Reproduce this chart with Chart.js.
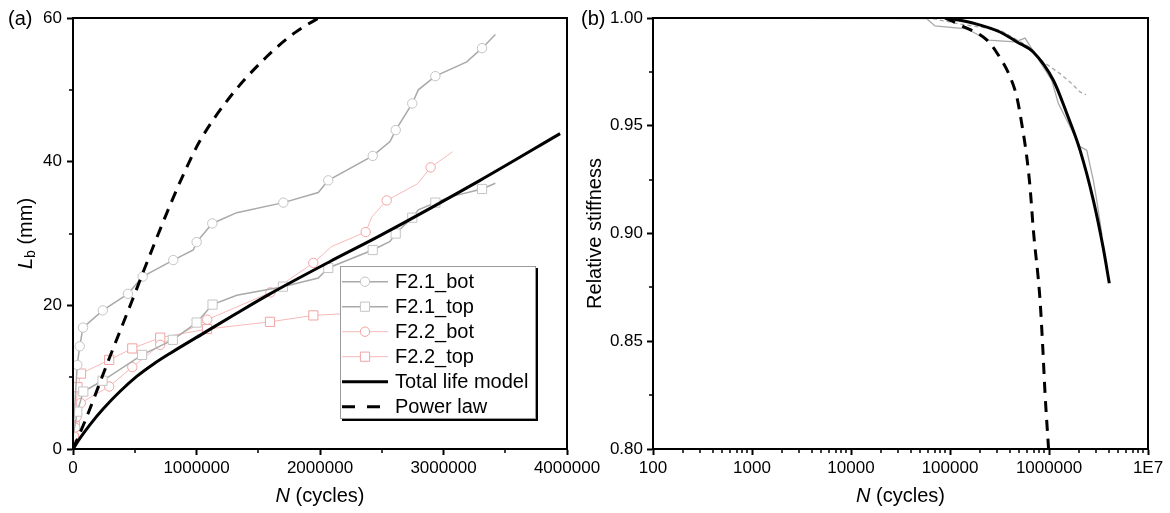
<!DOCTYPE html>
<html>
<head>
<meta charset="utf-8">
<script src="https://cdn.jsdelivr.net/npm/chart.js@4.4.1/dist/chart.umd.min.js"></script>
<style>
  body { margin: 0; background: #fff; }
  #wrap { position: relative; width: 1170px; height: 513px; overflow: hidden; }
  #cA { position: absolute; left: 0; top: 0; }
  #cB { position: absolute; left: 560px; top: 0; }
</style>
</head>
<body>
<div id="wrap">
  <canvas id="cA" width="620" height="513"></canvas>
  <canvas id="cB" width="610" height="513"></canvas>
</div>
<script>
//______________________________________________________
// (a) crack length L_b (mm) against N (cycles)
var f21BotN = [3000, 34800, 54300, 81000, 241000, 445000, 564000, 812000, 974000, 1001000, 1128000, 1326000,
               1703000, 1986000, 2067000, 2427000, 2567000, 2613000, 2747000, 2796000, 2934000, 3188000, 3312000, 3420000];
var f21BotL = [3.0, 11.7, 14.3, 16.9, 19.3, 21.6, 24.0, 26.3, 27.7, 28.8, 31.4, 32.9,
               34.3, 35.7, 37.4, 40.8, 42.8, 44.4, 48.1, 50.0, 51.9, 53.9, 55.8, 57.7];
var f21BotMarks = [1, 2, 3, 4, 5, 6, 7, 9, 10, 12, 14, 15, 17, 18, 20, 22];

var f21TopN = [3000, 34800, 83400, 239000, 559000, 808000, 1001000, 1130000, 1326000, 1700000, 1986000, 2067000,
               2427000, 2567000, 2613000, 2747000, 2796000, 2934000, 3053000, 3312000, 3420000];
var f21TopL = [2.0, 5.2, 8.0, 9.5, 13.1, 15.2, 17.6, 20.1, 21.4, 22.6, 23.8, 25.2,
               27.7, 28.9, 30.0, 32.2, 33.3, 34.3, 35.1, 36.2, 37.0];
var f21TopMarks = [1, 2, 3, 4, 5, 6, 7, 9, 11, 12, 14, 15, 17, 19];

var f22BotN = [0, 8000, 18000, 30000, 63000, 293000, 480000, 706000, 1087000, 1599000, 1946000, 2095000,
               2370000, 2419000, 2540000, 2788000, 2896000, 3075000];
var f22BotL = [0, 1.8, 3.0, 4.5, 6.4, 8.7, 11.4, 14.5, 18.0, 21.8, 25.9, 28.2,
               30.2, 32.3, 34.6, 36.9, 39.2, 41.4];
var f22BotMarks = [1, 2, 3, 4, 5, 6, 7, 8, 9, 10, 12, 14, 16];

var f22TopN = [0, 6000, 14000, 24000, 36000, 65000, 293000, 480000, 706000, 1085000, 1595000, 1946000, 2370000];
var f22TopL = [0, 1.5, 3.2, 5.5, 8.6, 10.5, 12.4, 14.0, 15.5, 16.7, 17.7, 18.6, 19.0];
var f22TopMarks = [1, 2, 3, 4, 5, 6, 7, 8, 9, 10, 11, 12];

var aTotalN = [0, 57000, 138000, 245000, 380000, 516000, 650000, 785000, 1055000, 1326000, 1595000, 2081000, 2486000, 3296000, 3944000];
var aTotalL = [0, 1.5, 3.4, 5.6, 8.0, 10.1, 11.8, 13.3, 16.1, 18.9, 21.6, 26.1, 29.7, 37.4, 43.9];

var aPowerN = [0, 100000, 275000, 475000, 650000, 812000, 907000, 1028000, 1271000, 1568000, 1800000, 2040000];
var aPowerL = [0, 4.0, 11.8, 20.5, 28.2, 35.0, 38.7, 42.9, 49.0, 54.6, 58.0, 60.5];

var aXTicks = [0, 1000000, 2000000, 3000000, 4000000];
var aXLabels = ['0', '1000000', '2000000', '3000000', '4000000'];
var aXMinor = [500000, 1500000, 2500000, 3500000];
var aYTicks = [0, 20, 40, 60];
var aYLabels = ['0', '20', '40', '60'];
var aYMinor = [10, 30, 50];

//______________________________________________________
// (b) relative stiffness against N (cycles), log axis
var b21N = [100, 58200, 70500, 147000, 244000, 454000, 573000, 812000, 1064000, 1242000, 1762000, 2057000, 2404000, 2803000, 3034000, 3428000];
var b21S = [1.000, 0.9997, 0.9963, 0.9950, 0.9897, 0.9889, 0.9907, 0.9796, 0.9712, 0.9604, 0.9465, 0.9403, 0.9387, 0.9248, 0.9155, 0.8993];

var b22N = [100, 62000, 126000, 320000, 596000, 877000, 1291000, 1629000, 2057000, 2365000];
var b22S = [1.000, 1.000, 0.9972, 0.9944, 0.9873, 0.9796, 0.9742, 0.9703, 0.9657, 0.9644];

var bTotalN = [95500, 179000, 320000, 475000, 693000, 1106000, 1510000, 2057000, 2803000, 3537000, 4066000];
var bTotalS = [1.000, 0.9974, 0.9935, 0.9889, 0.9842, 0.9711, 0.9558, 0.9387, 0.9155, 0.8931, 0.8769];

var bPowerN = [89000, 126000, 235000, 297000, 404000, 472000, 530000, 596000, 643000, 695000, 812000, 864000, 912000, 990000];
var bPowerS = [1.000, 0.9968, 0.9898, 0.9839, 0.9728, 0.9635, 0.9511, 0.9356, 0.9217, 0.9016, 0.8691, 0.8475, 0.8258, 0.800];

var bXTicks = [100, 1000, 10000, 100000, 1000000, 10000000];
var bXLabels = ['100', '1000', '10000', '100000', '1000000', '1E7'];
var bYTicks = [0.80, 0.85, 0.90, 0.95, 1.00];
var bYLabels = ['0.80', '0.85', '0.90', '0.95', '1.00'];
var bYMinor = [0.825, 0.875, 0.925, 0.975];

const Font = '"Liberation Sans", Arial, sans-serif';
const Gray = '#a9a9a9';
const GrayMark = '#c4c4c4';
const Pink = '#f7b9b9';
const PinkMark = '#f3a3a3';

Chart.defaults.font.family = Font;
Chart.defaults.font.size = 17;
Chart.defaults.color = '#000';

//______________________________________________________
function pts(xs, ys) {
    return xs.map(function (x, i) { return {x: x, y: ys[i]}; });
}
//______________________________________________________
function markRadius(marks, r) {
    return function (c) { return marks.indexOf(c.dataIndex) >= 0 ? r : 0; };
}
//______________________________________________________
function logMinors(ticks) { // 2..9 between decades
    var out = [];
    for (var i = 0; i < ticks.length - 1; i++) {
        for (var m = 2; m <= 9; m++) out.push(ticks[i] * m);
    }
    return out;
}
//______________________________________________________
function drawRuns(ctx, runs, cx, cy, rot) {
    ctx.save();
    ctx.translate(cx, cy);
    ctx.rotate(rot);
    var w = 0;
    runs.forEach(function (r) { ctx.font = r.f; w += ctx.measureText(r.t).width; });
    var x = -w / 2;
    ctx.textAlign = 'left';
    ctx.textBaseline = 'middle';
    ctx.fillStyle = '#000';
    runs.forEach(function (r) {
        ctx.font = r.f;
        ctx.fillText(r.t, x, r.dy || 0);
        x += ctx.measureText(r.t).width;
    });
    ctx.restore();
}
//______________________________________________________
function drawMarker(ctx, style, x, y, r, color) {
    ctx.fillStyle = '#fff';
    ctx.strokeStyle = color;
    ctx.lineWidth = 1;
    ctx.beginPath();
    if (style === 'rect') {
        var s = r * Math.SQRT1_2;
        ctx.rect(x - s, y - s, 2 * s, 2 * s);
    } else {
        ctx.arc(x, y, r, 0, Math.PI * 2);
    }
    ctx.fill();
    ctx.stroke();
}
//______________________________________________________
function drawLegend(chart, L) {
    var ctx = chart.ctx;
    ctx.save();
    ctx.fillStyle = '#000';
    ctx.fillRect(L.x + 2, L.y + 2, L.w, L.h);
    ctx.fillStyle = '#fff';
    ctx.fillRect(L.x, L.y, L.w, L.h);
    ctx.strokeStyle = '#9a9a9a';
    ctx.lineWidth = 1;
    ctx.strokeRect(L.x + 0.5, L.y + 0.5, L.w - 1, L.h - 1);
    chart.data.datasets.forEach(function (ds, i) {
        var y = L.y + L.first + i * L.row;
        ctx.save();
        ctx.strokeStyle = ds.borderColor;
        ctx.lineWidth = ds.borderWidth;
        ctx.setLineDash(ds.legendDash || ds.borderDash || []);
        ctx.beginPath();
        ctx.moveTo(L.x + L.s0, y);
        ctx.lineTo(L.x + L.s1, y);
        ctx.stroke();
        ctx.setLineDash([]);
        if (ds.legendMarker) {
            drawMarker(ctx, ds.pointStyle, L.x + (L.s0 + L.s1) / 2, y, ds.legendMarker, ds.pointBorderColor);
        }
        ctx.fillStyle = '#000';
        ctx.font = '20px ' + Font;
        ctx.textAlign = 'left';
        ctx.textBaseline = 'middle';
        ctx.fillText(ds.label, L.x + L.tx, y + 1);
        ctx.restore();
    });
    ctx.restore();
}
//______________________________________________________
const decor = {
    id: 'decor',
    afterDraw: function (chart, args, o) {
        var ctx = chart.ctx, a = chart.chartArea;
        var xs = chart.scales.x, ys = chart.scales.y;
        ctx.save();
        ctx.strokeStyle = '#000';
        ctx.lineWidth = 2;
        ctx.strokeRect(a.left, a.top, a.right - a.left, a.bottom - a.top);
        ctx.lineWidth = 1.5;
        ctx.beginPath();
        o.minorX.forEach(function (v) {
            var p = Math.round(xs.getPixelForValue(v));
            ctx.moveTo(p, a.bottom); ctx.lineTo(p, a.bottom + 4);
        });
        o.minorY.forEach(function (v) {
            var p = Math.round(ys.getPixelForValue(v));
            ctx.moveTo(a.left, p); ctx.lineTo(a.left - 4, p);
        });
        ctx.stroke();
        ctx.fillStyle = '#000';
        ctx.font = '20px ' + Font;
        ctx.textAlign = 'left';
        ctx.textBaseline = 'middle';
        ctx.fillText(o.panel, o.panelX, 19);
        drawRuns(ctx, o.xTitle, (a.left + a.right) / 2, 496, 0);
        drawRuns(ctx, o.yTitle, o.yTitleX, (a.top + a.bottom) / 2, -Math.PI / 2);
        ctx.restore();
        drawLegend(chart, o.legend);
    }
};
//______________________________________________________
function axis(extra) {
    var base = {
        border: {color: '#000', width: 2},
        grid: {drawOnChartArea: false, drawTicks: true, tickLength: 6, tickWidth: 2, tickColor: '#000'},
        ticks: {color: '#000', font: {size: 17}, autoSkip: false, maxRotation: 0, padding: 3}
    };
    return Object.assign(base, extra);
}

var nRun = [{t: 'N', f: 'italic 20px ' + Font}, {t: ' (cycles)', f: '20px ' + Font}];

//______________________________________________________
var chartA = new Chart('cA', {
    type: 'scatter',
    data: {
        datasets: [
            {label: 'F2.1_bot', data: pts(f21BotN, f21BotL), showLine: true, borderColor: Gray, borderWidth: 1.5,
             pointStyle: 'circle', pointRadius: markRadius(f21BotMarks, 4.7), pointBackgroundColor: '#fff',
             pointBorderColor: GrayMark, pointBorderWidth: 1, legendMarker: 4.7, order: 2},
            {label: 'F2.1_top', data: pts(f21TopN, f21TopL), showLine: true, borderColor: Gray, borderWidth: 1.5,
             pointStyle: 'rect', pointRadius: markRadius(f21TopMarks, 6.5), pointBackgroundColor: '#fff',
             pointBorderColor: GrayMark, pointBorderWidth: 1, legendMarker: 6.5, order: 2},
            {label: 'F2.2_bot', data: pts(f22BotN, f22BotL), showLine: true, borderColor: Pink, borderWidth: 1,
             pointStyle: 'circle', pointRadius: markRadius(f22BotMarks, 4.7), pointBackgroundColor: '#fff',
             pointBorderColor: PinkMark, pointBorderWidth: 1, legendMarker: 4.7, order: 3},
            {label: 'F2.2_top', data: pts(f22TopN, f22TopL), showLine: true, borderColor: Pink, borderWidth: 1,
             pointStyle: 'rect', pointRadius: markRadius(f22TopMarks, 6.5), pointBackgroundColor: '#fff',
             pointBorderColor: PinkMark, pointBorderWidth: 1, legendMarker: 6.5, order: 3},
            {label: 'Total life model', data: pts(aTotalN, aTotalL), showLine: true, borderColor: '#000', borderWidth: 3,
             pointRadius: 0, cubicInterpolationMode: 'monotone', order: 0},
            {label: 'Power law', data: pts(aPowerN, aPowerL), showLine: true, borderColor: '#000', borderWidth: 3,
             borderDash: [11, 8], legendDash: [13, 12], pointRadius: 0, cubicInterpolationMode: 'monotone', order: 1}
        ]
    },
    options: {
        responsive: false,
        animation: false,
        events: [],
        layout: {padding: {left: 0, top: 18, right: 53, bottom: 0}},
        plugins: {
            legend: {display: false},
            tooltip: {enabled: false},
            decor: {
                minorX: aXMinor, minorY: aYMinor, panel: '(a)', panelX: 8, yTitleX: 26,
                xTitle: nRun,
                yTitle: [{t: 'L', f: 'italic 20px ' + Font}, {t: 'b', f: '14px ' + Font, dy: 5}, {t: ' (mm)', f: '20px ' + Font}],
                legend: {x: 340, y: 266, w: 196, h: 153, first: 15.7, row: 25, s0: 2, s1: 48, tx: 55}
            }
        },
        scales: {
            x: axis({type: 'linear', min: 0, max: 4000000,
                afterBuildTicks: function (s) { s.ticks = aXTicks.map(function (v) { return {value: v}; }); },
                afterFit: function (s) { s.height = 64; },
                ticks: {color: '#000', font: {size: 17}, autoSkip: false, maxRotation: 0, padding: 3,
                        callback: function (v, i) { return aXLabels[i]; }}}),
            y: axis({type: 'linear', min: 0, max: 60,
                afterBuildTicks: function (s) { s.ticks = aYTicks.map(function (v) { return {value: v}; }); },
                afterFit: function (s) { s.width = 73; },
                ticks: {color: '#000', font: {size: 17}, padding: 5,
                        callback: function (v, i) { return aYLabels[i]; }}})
        }
    },
    plugins: [decor]
});

//______________________________________________________
var chartB = new Chart('cB', {
    type: 'scatter',
    data: {
        datasets: [
            {label: 'cX45-Ss-T_F2.1a', data: pts(b21N, b21S), showLine: true, borderColor: '#a8a8a8', borderWidth: 1.3,
             pointRadius: 0, order: 3},
            {label: 'cX45-Ss-T_F2.2a', data: pts(b22N, b22S), showLine: true, borderColor: '#a8a8a8', borderWidth: 1.3,
             borderDash: [4, 3], pointRadius: 0, order: 2},
            {label: 'Total life model', data: pts(bTotalN, bTotalS), showLine: true, borderColor: '#000', borderWidth: 3,
             pointRadius: 0, cubicInterpolationMode: 'monotone', order: 0},
            {label: 'Power law', data: pts(bPowerN, bPowerS), showLine: true, borderColor: '#000', borderWidth: 3,
             borderDash: [11, 8], legendDash: [13, 12], pointRadius: 0, cubicInterpolationMode: 'monotone', order: 1}
        ]
    },
    options: {
        responsive: false,
        animation: false,
        events: [],
        layout: {padding: {left: 0, top: 18, right: 22, bottom: 0}},
        plugins: {
            legend: {display: false},
            tooltip: {enabled: false},
            decor: {
                minorX: logMinors(bXTicks), minorY: bYMinor, panel: '(b)', panelX: 21, yTitleX: 35,
                xTitle: nRun,
                yTitle: [{t: 'Relative stiffness', f: '20px ' + Font}],
                legend: {x: 684, y: 318, w: 221, h: 103, first: 13.7, row: 25, s0: 3, s1: 49, tx: 56}
            }
        },
        scales: {
            x: axis({type: 'logarithmic', min: 100, max: 10000000,
                afterBuildTicks: function (s) { s.ticks = bXTicks.map(function (v) { return {value: v}; }); },
                afterFit: function (s) { s.height = 64; },
                ticks: {color: '#000', font: {size: 17}, autoSkip: false, maxRotation: 0, padding: 3,
                        callback: function (v, i) { return bXLabels[i]; }}}),
            y: axis({type: 'linear', min: 0.8, max: 1.0,
                afterBuildTicks: function (s) { s.ticks = bYTicks.map(function (v) { return {value: v}; }); },
                afterFit: function (s) { s.width = 93; },
                ticks: {color: '#000', font: {size: 17}, padding: 4,
                        callback: function (v, i) { return bYLabels[i]; }}})
        }
    },
    plugins: [decor]
});
</script>
</body>
</html>
